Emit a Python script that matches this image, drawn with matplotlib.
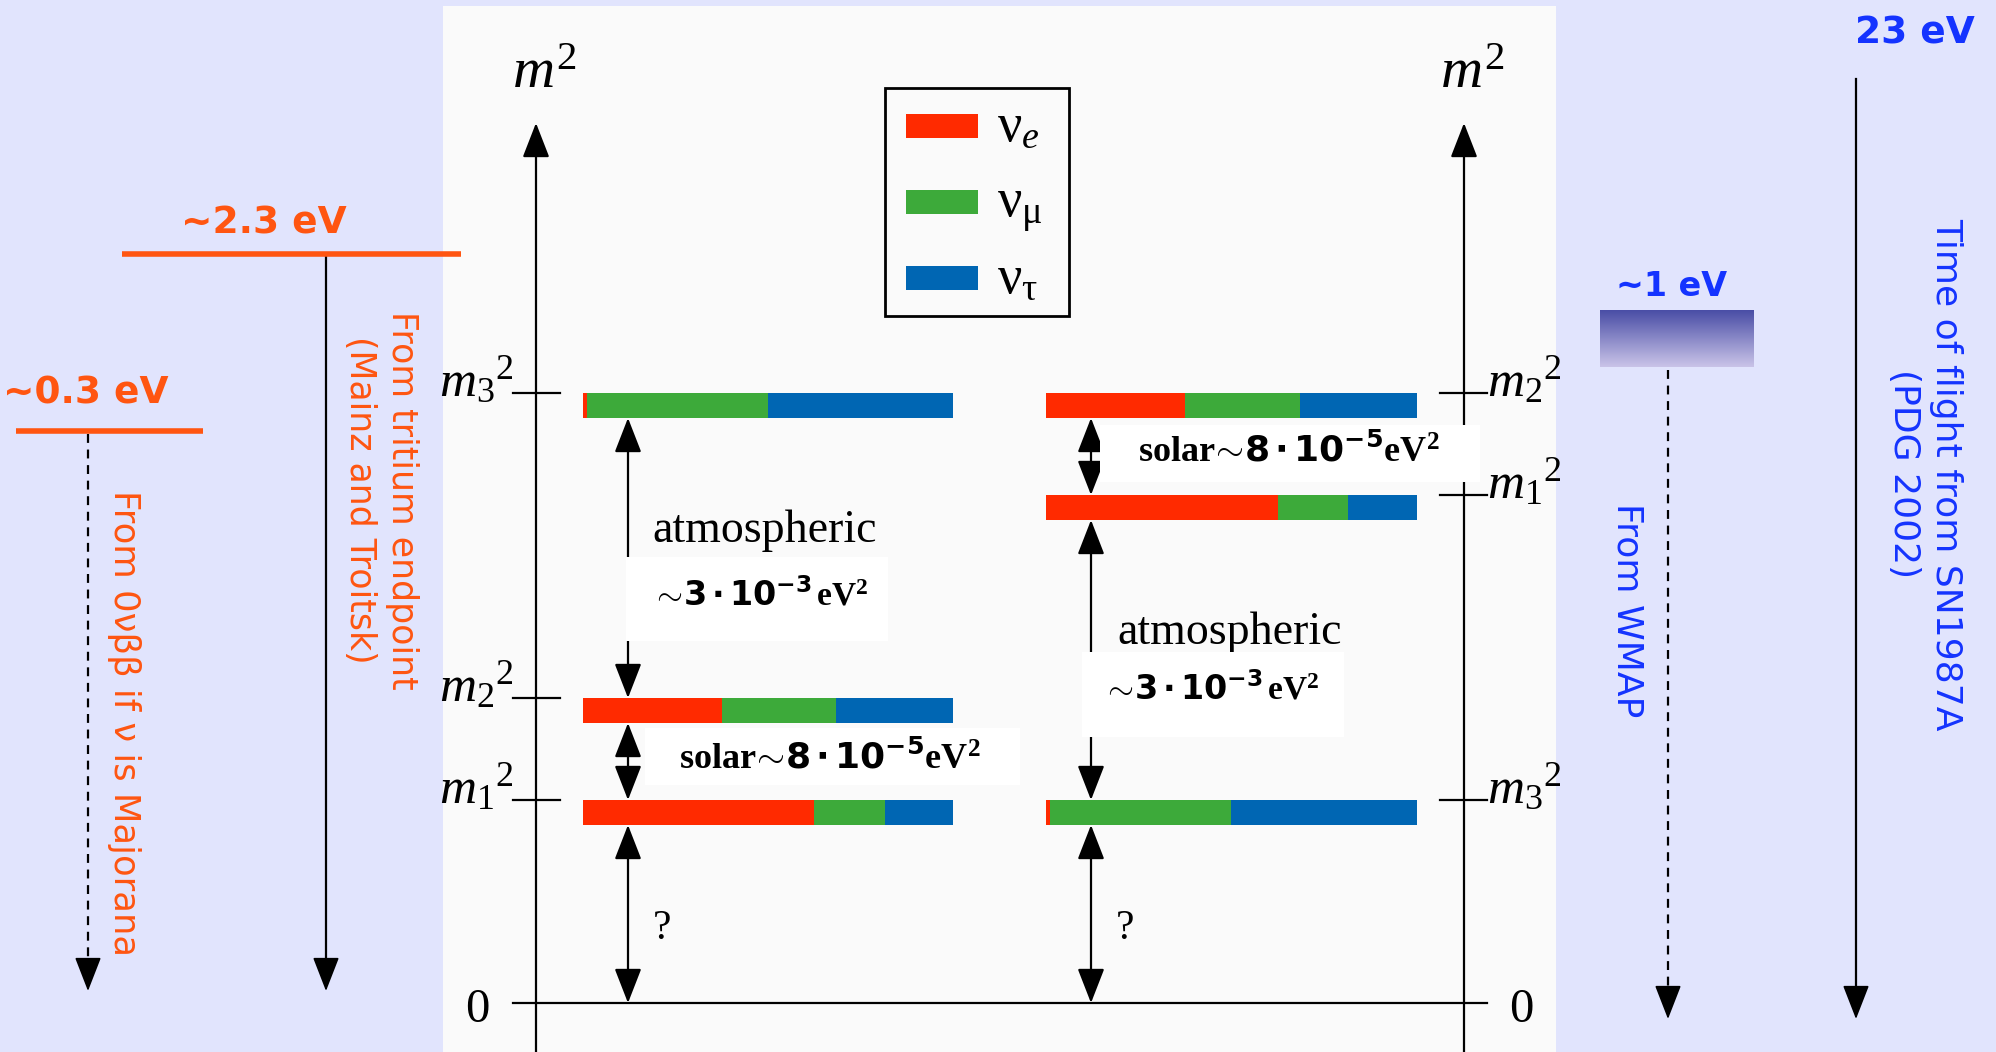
import numpy as np
import matplotlib.pyplot as plt
from matplotlib.patches import Rectangle
from matplotlib.colors import LinearSegmentedColormap

plt.rcParams['mathtext.fontset'] = 'custom'
plt.rcParams['mathtext.rm'] = 'Liberation Serif'
plt.rcParams['mathtext.it'] = 'Liberation Serif:italic'
plt.rcParams['mathtext.bf'] = 'Liberation Serif:bold'
plt.rcParams['mathtext.sf'] = 'DejaVu Sans:bold'

# ---- data ----
flavor_labels = [r'$\mathrm{\nu}_{e}$', r'$\mathrm{\nu}_{\mathrm{\mu}}$', r'$\mathrm{\nu}_{\mathrm{\tau}}$']
flavor_colors = ['#FF2A00', '#3DAA3A', '#0066B3']

# normal hierarchy (left panel): level labels, bar top row, flavour content
normal_labels = [r'$m_{1}{}^{2}$', r'$m_{2}{}^{2}$', r'$m_{3}{}^{2}$']
normal_rows = [800, 698, 393]
normal_mix = [[0.625, 0.19, 0.185], [0.375, 0.31, 0.315], [0.01, 0.49, 0.50]]

# inverted hierarchy (right panel)
inverted_labels = [r'$m_{3}{}^{2}$', r'$m_{1}{}^{2}$', r'$m_{2}{}^{2}$']
inverted_rows = [800, 495, 393]
inverted_mix = [[0.01, 0.49, 0.50], [0.625, 0.19, 0.185], [0.375, 0.31, 0.315]]

# experimental limits: label, line row, arrow column
orange_limits = ['~0.3 eV', '~2.3 eV']
orange_rows = [431, 254]
orange_cols = [88, 326]
orange_notes = ['From 0νββ if ν is Majorana', 'From tritium endpoint\n(Mainz and Troitsk)']
blue_limits = ['~1 eV', '23 eV']
blue_cols = [1668, 1856]
blue_notes = ['From WMAP', 'Time of flight from SN1987A\n(PDG 2002)']

bg = '#E1E4FD'
orange = '#FF5511'
blue = '#1433FF'
bar_h = 25
zero_row = 1003

fig = plt.figure(figsize=(19.96, 10.52), dpi=100)
fig.patch.set_facecolor(bg)
ax = fig.add_axes([0, 0, 1, 1])
ax.set_xlim(0, 1996)
ax.set_ylim(1052, 0)
ax.axis('off')

# white diagram panel
ax.add_patch(Rectangle((443, 6), 1113, 1050, fc='#FAFAFA', ec='none', zorder=0))


def arrow(x0, y0, x1, y1, style='<|-|>', lw=1.6, ls='-'):
    ax.annotate('', xy=(x1, y1), xytext=(x0, y0),
                arrowprops=dict(arrowstyle=style + ',head_length=0.9,head_width=0.35',
                                color='black', lw=lw, ls=ls, mutation_scale=24,
                                shrinkA=0, shrinkB=0), zorder=3)


def draw_side(axis_x, bar_x0, bar_w, rows, mix, labels, tick_x0, tick_x1, lab_x, ha):
    # axis with arrow
    ax.plot([axis_x, axis_x], [1052, 150], color='black', lw=1.6, zorder=2)
    arrow(axis_x, 150, axis_x, 123, style='-|>')
    ax.text(axis_x + 8, 72, r'$m^2$', fontsize=42, ha='center', va='center')
    for r, m, lab in zip(rows, mix, labels):
        left = bar_x0
        for f, c in zip(m, flavor_colors):
            ax.barh(r + bar_h / 2, f * bar_w, left=left, height=bar_h, color=c, zorder=2)
            left += f * bar_w
        ax.plot([tick_x0, tick_x1], [r, r], color='black', lw=1.6, zorder=2)
        ax.text(lab_x, r + 3, lab, fontsize=37, ha=ha, va='baseline')


ax.plot([513, 1487], [zero_row, zero_row], color='black', lw=1.6, zorder=2)
ax.text(477, 1010, '0', fontsize=35, family='Liberation Serif', ha='center', va='center')
ax.text(1521, 1010, '0', fontsize=35, family='Liberation Serif', ha='center', va='center')

draw_side(536, 583, 370, normal_rows, normal_mix, normal_labels, 513, 560, 514, 'right')
draw_side(1464, 1046, 371, inverted_rows, inverted_mix, inverted_labels, 1440, 1487, 1487, 'left')

# splitting arrows
ax_l, ax_r = 628, 1091
arrow(ax_l, normal_rows[2] + bar_h, ax_l, normal_rows[1])
arrow(ax_l, normal_rows[1] + bar_h, ax_l, normal_rows[0])
arrow(ax_l, normal_rows[0] + bar_h, ax_l, zero_row)
arrow(ax_r, inverted_rows[2] + bar_h, ax_r, inverted_rows[1])
arrow(ax_r, inverted_rows[1] + bar_h, ax_r, inverted_rows[0])
arrow(ax_r, inverted_rows[0] + bar_h, ax_r, zero_row)

atm = r'$\sim\!\mathsf{3\cdot10^{-3}}\,\mathbf{eV^{2}}$'
sol = r'$\mathbf{solar}\!\sim\!\mathsf{8\cdot10^{-5}}\mathbf{eV^{2}}$'

# left labels
ax.text(765, 531, 'atmospheric', fontsize=33, family='Liberation Serif', ha='center', va='center')
ax.add_patch(Rectangle((626, 557), 262, 84, fc='white', ec='none', zorder=4))
ax.text(760, 595, atm, fontsize=24, ha='center', va='center', zorder=5)
ax.add_patch(Rectangle((645, 728), 375, 57, fc='white', ec='none', zorder=4))
ax.text(830, 757, sol, fontsize=26, ha='center', va='center', zorder=5)
ax.text(662, 929, '?', fontsize=30, family='Liberation Serif', ha='center', va='center')

# right labels
ax.add_patch(Rectangle((1100, 425), 380, 57, fc='white', ec='none', zorder=4))
ax.text(1289, 450, sol, fontsize=26, ha='center', va='center', zorder=5)
ax.text(1230, 633, 'atmospheric', fontsize=33, family='Liberation Serif', ha='center', va='center')
ax.add_patch(Rectangle((1082, 652), 262, 85, fc='white', ec='none', zorder=4))
ax.text(1211, 689, atm, fontsize=24, ha='center', va='center', zorder=5)
ax.text(1125, 929, '?', fontsize=30, family='Liberation Serif', ha='center', va='center')

# legend
ax.add_patch(Rectangle((885, 88), 184, 228, fc='none', ec='black', lw=2, zorder=3))
for i, (lab, c) in enumerate(zip(flavor_labels, flavor_colors)):
    yc = 126 + 76 * i
    ax.barh(yc, 72, left=906, height=24, color=c, zorder=3)
    ax.text(997, yc + 14, lab, fontsize=39, ha='left', va='baseline')

# orange limits (left)
ax.plot([16, 203], [orange_rows[0], orange_rows[0]], color=orange, lw=4, solid_capstyle='butt', zorder=3)
ax.plot([122, 461], [orange_rows[1], orange_rows[1]], color=orange, lw=4, solid_capstyle='butt', zorder=3)
ax.text(86, 394, orange_limits[0], fontsize=27, weight='bold', color=orange, ha='center', va='center')
ax.text(264, 224, orange_limits[1], fontsize=27, weight='bold', color=orange, ha='center', va='center')

ax.plot([orange_cols[0]] * 2, [orange_rows[0] + 3, 975], color='black', lw=1.6, ls=(0, (4, 3)))
arrow(orange_cols[0], 975, orange_cols[0], 991, style='-|>', lw=1.2)
ax.plot([orange_cols[1]] * 2, [orange_rows[1] + 3, 975], color='black', lw=1.6)
arrow(orange_cols[1], 975, orange_cols[1], 991, style='-|>', lw=1.2)

ax.text(124, 723, orange_notes[0], fontsize=25.5, color=orange, rotation=-90, ha='center', va='center')
ax.text(381, 500, orange_notes[1], fontsize=25, color=orange, rotation=-90, ha='center', va='center',
        multialignment='center', linespacing=1.3)

# blue limits (right)
grad = LinearSegmentedColormap.from_list('wmap', ['#4A4EA6', '#C9C3E8'])
ax.imshow(np.linspace(0, 1, 64).reshape(-1, 1), cmap=grad, aspect='auto',
          extent=(1600, 1754, 367, 310), zorder=2)
ax.text(1672, 287, blue_limits[0], fontsize=24, weight='bold', color=blue, ha='center', va='center')
ax.text(1915, 34, blue_limits[1], fontsize=27, weight='bold', color=blue, ha='center', va='center')

ax.plot([blue_cols[0]] * 2, [370, 1002], color='black', lw=1.6, ls=(0, (4, 3)))
arrow(blue_cols[0], 1002, blue_cols[0], 1019, style='-|>', lw=1.2)
ax.plot([blue_cols[1]] * 2, [79, 1002], color='black', lw=1.6)
arrow(blue_cols[1], 1002, blue_cols[1], 1019, style='-|>', lw=1.2)

ax.text(1628, 610, blue_notes[0], fontsize=26, color=blue, rotation=-90, ha='center', va='center')
ax.text(1925, 474, blue_notes[1], fontsize=26, color=blue, rotation=-90, ha='center', va='center',
        multialignment='center', linespacing=1.3)

ax.set_xlim(0, 1996)
ax.set_ylim(1052, 0)
fig.savefig('out.png', dpi=100, facecolor=bg)
